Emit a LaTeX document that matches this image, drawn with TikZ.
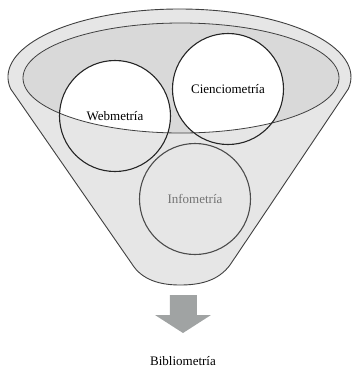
\documentclass[tikz,border=0pt]{standalone}
\usepackage{fontspec}
\setmainfont{Liberation Serif}
\usepackage{tikz}
\definecolor{funnelgray}{RGB}{230,230,230}
\definecolor{rimgray}{RGB}{217,217,217}
\definecolor{arrowgray}{RGB}{160,163,163}
\begin{document}
\begin{tikzpicture}[x=1pt,y=-1pt,
    funnel/.style = {draw=black!75, line width=0.9pt, fill=funnelgray},
    rim/.style    = {draw=black!75, line width=0.8pt},
    bubble/.style = {circle, draw=black!85, line width=1.1pt, minimum size=111pt, inner sep=0pt,
                     font=\fontsize{13}{15}\selectfont},
    caption/.style = {font=\fontsize{13}{15}\selectfont}
  ]
  \useasboundingbox (0,0) rectangle (352,368);
  % funnel body
  \path[funnel] (132,264) -- (10.6,88.8)
    arc[start angle=170, end angle=370, x radius=171.5, y radius=68]
    -- (230,265) .. controls (218,281) and (200,285) .. (180,285)
    .. controls (160,285) and (142,280) .. cycle;
  % inside of the rim
  \fill[rimgray] (181,78) ellipse[x radius=158, y radius=55];
  \coordinate (webC)  at (115,116);
  \coordinate (cienC) at (228,89);
  \coordinate (infoC) at (195,199);
  \begin{scope}
    \clip (181,78) ellipse[x radius=158, y radius=55];
    \fill[white] (webC) circle[radius=55.5];
    \fill[white] (cienC) circle[radius=55.5];
  \end{scope}
  \draw[rim] (181,78) ellipse[x radius=158, y radius=55];
  % circles
  \node[bubble] (web)  at (webC)  {Webmetría};
  \node[bubble] (cien) at (cienC) {Cienciometría};
  \node[bubble, text=black!55, draw=black!70] (info) at (infoC) {Infometría};
  % arrow and result
  \fill[arrowgray] (170,295) -- (197,295) -- (197,315) -- (211,315) -- (183,333)
    -- (155,315) -- (170,315) -- cycle;
  \node[caption] (biblio) at (183,361) {Bibliometría};
\end{tikzpicture}
\end{document}
